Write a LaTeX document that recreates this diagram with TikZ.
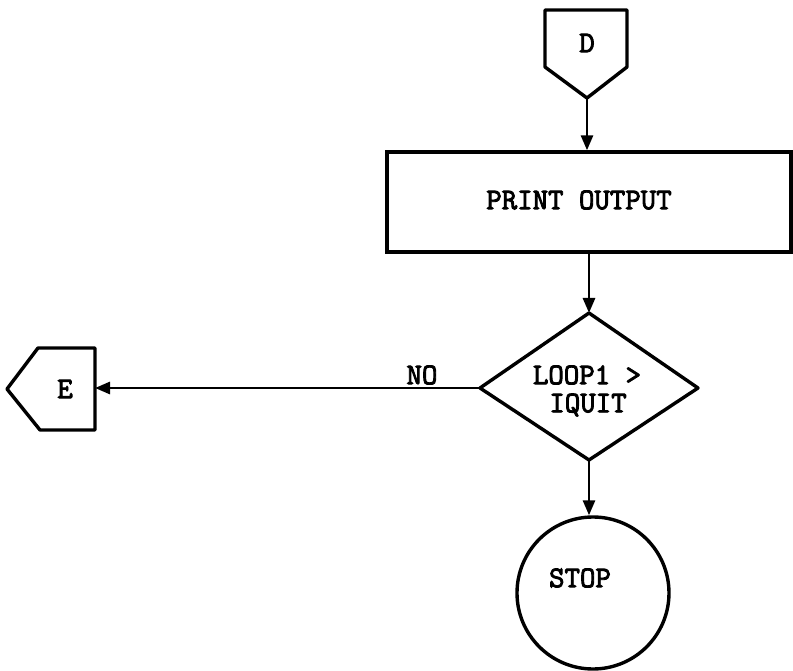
\documentclass[tikz,border=0pt]{standalone}
\usepackage{fontspec}
\newfontfamily\tybold{Latin Modern Mono}[FakeBold=3]
\usetikzlibrary{arrows.meta}
\begin{document}
\begin{tikzpicture}[x=1pt,y=-1pt,
  shapeline/.style={line width=3.4pt, line join=round},
  flow/.style={line width=2.8pt, -{Triangle[length=15pt,width=12pt]}},
  lbl/.style={font=\tybold\fontsize{30}{32}\selectfont, inner sep=0pt}]
\useasboundingbox (0,0) rectangle (793,671);

% off-page connector D
\coordinate (Dout) at (587,98);
\draw[shapeline] (545,10) -- (627,10) -- (627,67) -- (Dout) -- (545,67) -- cycle;
\node[lbl] (Dlbl) at (587,43) {D};

% process box
\node[draw, line width=3.4pt, minimum width=404pt, minimum height=100pt, inner sep=0pt] (box) at (589,202) {};
\node[lbl] (boxlbl) at (579,200) {PRINT OUTPUT};

% decision diamond
\coordinate (dtop) at (589,313);
\coordinate (dleft) at (480,388);
\coordinate (dright) at (698,388);
\coordinate (dbottom) at (589,460);
\draw[shapeline] (dtop) -- (dright) -- (dbottom) -- (dleft) -- cycle;
\node[lbl] (dl1) at (587,375) {LOOP1 >};
\node[lbl] (dl2) at (588,405) {IQUIT};

% off-page connector E
\coordinate (Eright) at (95,388);
\draw[shapeline] (7,389) -- (38,348) -- (95,348) -- (95,430) -- (40,430) -- cycle;
\node[lbl] (Elbl) at (65,389) {E};

% terminal
\node[draw, circle, line width=3.4pt, minimum size=152pt, inner sep=0pt] (stop) at (593,593) {};
\node[lbl] (stoplbl) at (580,578) {STOP};

% connectors
\draw[flow] (Dout) -- (Dout |- box.north);
\draw[flow] (dtop |- box.south) -- (dtop);
\draw[flow] (dleft) -- (Eright);
\node[lbl] (no) at (422,375) {NO};
\draw[flow] (dbottom) -- (dbottom |- stop.north);
\end{tikzpicture}
\end{document}
